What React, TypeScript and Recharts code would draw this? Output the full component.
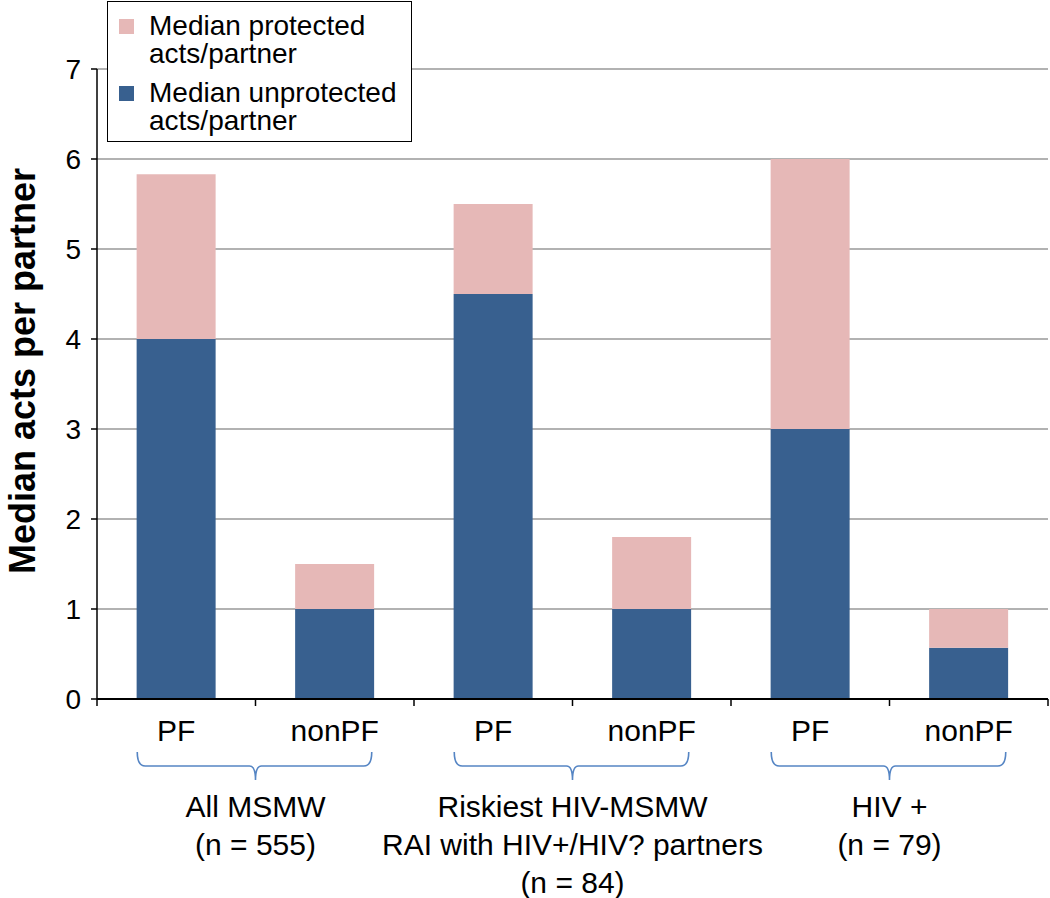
import React from 'react'
import {
  BarChart,
  Bar,
  XAxis,
  YAxis,
  CartesianGrid,
} from 'recharts'

const categories = ['PF', 'nonPF', 'PF', 'nonPF', 'PF', 'nonPF']
const unprotected = [4.0, 1.0, 4.5, 1.0, 3.0, 0.57]
const protectedActs = [1.83, 0.5, 1.0, 0.8, 3.0, 0.43]
const groupLabels = [
  ['All MSMW', '(n = 555)'],
  ['Riskiest HIV-MSMW', 'RAI with HIV+/HIV? partners', '(n = 84)'],
  ['HIV +', '(n = 79)'],
]
const yTicks = [0, 1, 2, 3, 4, 5, 6, 7]

const data = categories.map((c, i) => ({
  id: `${c}-${i}`,
  name: c,
  unprotected: unprotected[i],
  protected: protectedActs[i],
}))

const W = 1050
const H = 898
const TOP = 69
const PLOT_H = 630
const LEFT = 97
const RIGHT = 2
const BAND = (W - LEFT - RIGHT) / categories.length
const BLUE = '#38608f'
const PINK = '#e6b8b7'
const BRACE = '#5585c4'
const FONT = '"Liberation Sans", Arial, Helvetica, sans-serif'

function XTick(props: any) {
  const { x, y, index } = props
  const left = x - BAND / 2
  const out: React.ReactNode[] = []
  out.push(
    <line key='t' x1={left} x2={left} y1={y} y2={y + 7} stroke='#000' strokeWidth={1.5} />
  )
  if (index === categories.length - 1) {
    out.push(
      <line key='t2' x1={x + BAND / 2} x2={x + BAND / 2} y1={y} y2={y + 7} stroke='#000' strokeWidth={1.5} />
    )
  }
  out.push(
    <text key='l' x={x} y={y + 31} textAnchor='middle' dominantBaseline='central' fontSize={30} fill='#000'>
      {categories[index]}
    </text>
  )
  if (index % 2 === 0) {
    const g = index / 2
    const mid = x + BAND / 2
    const x0 = x - 39
    const x1 = x + BAND + 37
    const t = y + 53
    const h = y + 67
    const b = y + 81
    out.push(
      <path
        key='b'
        d={`M${x0},${t} Q${x0},${h} ${x0 + 8},${h} L${mid - 6},${h} Q${mid},${h} ${mid},${b} Q${mid},${h} ${mid + 6},${h} L${x1 - 8},${h} Q${x1},${h} ${x1},${t}`}
        fill='none'
        stroke={BRACE}
        strokeWidth={1.6}
      />
    )
    groupLabels[g].forEach((line, k) => {
      out.push(
        <text
          key={`g${k}`}
          x={mid}
          y={y + 107 + k * 38}
          textAnchor='middle'
          dominantBaseline='central'
          fontSize={30}
          fill='#000'
        >
          {line}
        </text>
      )
    })
  }
  return <g fontFamily={FONT}>{out}</g>
}

function YTitle() {
  const cx = 22
  const cy = TOP + PLOT_H / 2 - 13
  return (
    <text
      x={cx}
      y={cy}
      transform={`rotate(-90 ${cx} ${cy})`}
      textAnchor='middle'
      dominantBaseline='central'
      fontSize={36}
      fontWeight='bold'
      fontFamily={FONT}
      fill='#000'
    >
      Median acts per partner
    </text>
  )
}

function LegendBox() {
  const items = [
    { color: PINK, lines: ['Median protected', 'acts/partner'] },
    { color: BLUE, lines: ['Median unprotected', 'acts/partner'] },
  ]
  return (
    <div
      style={{
        position: 'absolute',
        left: 107,
        top: 1,
        border: '1.5px solid #000',
        background: '#fff',
        width: 305,
        height: 141,
        boxSizing: 'border-box',
        fontFamily: FONT,
        fontSize: 28,
        lineHeight: '28px',
        color: '#000',
        padding: '10px 0 0 11px',
      }}
    >
      {items.map((it, i) => (
        <div key={i} style={{ display: 'flex', alignItems: 'flex-start', marginBottom: i === 0 ? 11 : 0 }}>
          <div style={{ width: 15, height: 15, background: it.color, marginTop: 7, marginRight: 15, flexShrink: 0 }} />
          <div>
            {it.lines.map((l) => (
              <div key={l}>{l}</div>
            ))}
          </div>
        </div>
      ))}
    </div>
  )
}

export default function App() {
  return (
    <div style={{ position: 'absolute', left: 0, top: 0, width: W, height: H, background: '#fff' }}>
      <BarChart
        width={W}
        height={H}
        data={data}
        margin={{ top: TOP, right: RIGHT, left: 0, bottom: 0 }}
        barCategoryGap='25%'
        style={{ fontFamily: FONT }}
      >
        <CartesianGrid vertical={false} stroke='#999' strokeWidth={1.5} />
        <XAxis
          dataKey='id'
          height={H - TOP - PLOT_H}
          axisLine={{ stroke: '#000', strokeWidth: 2 }}
          tickLine={false}
          tickSize={0}
          tickMargin={0}
          interval={0}
          tick={<XTick />}
        />
        <YAxis
          width={LEFT}
          domain={[0, 7]}
          ticks={yTicks}
          interval={0}
          axisLine={{ stroke: '#000', strokeWidth: 1.5 }}
          tickLine={{ stroke: '#000', strokeWidth: 1.5 }}
          tickSize={6}
          tickMargin={10}
          tick={{ fontSize: 28, fill: '#000', fontFamily: FONT }}
          label={<YTitle />}
        />
        <Bar dataKey='unprotected' stackId='a' fill={BLUE} isAnimationActive={false} />
        <Bar dataKey='protected' stackId='a' fill={PINK} isAnimationActive={false} />
      </BarChart>
      <LegendBox />
    </div>
  )
}
